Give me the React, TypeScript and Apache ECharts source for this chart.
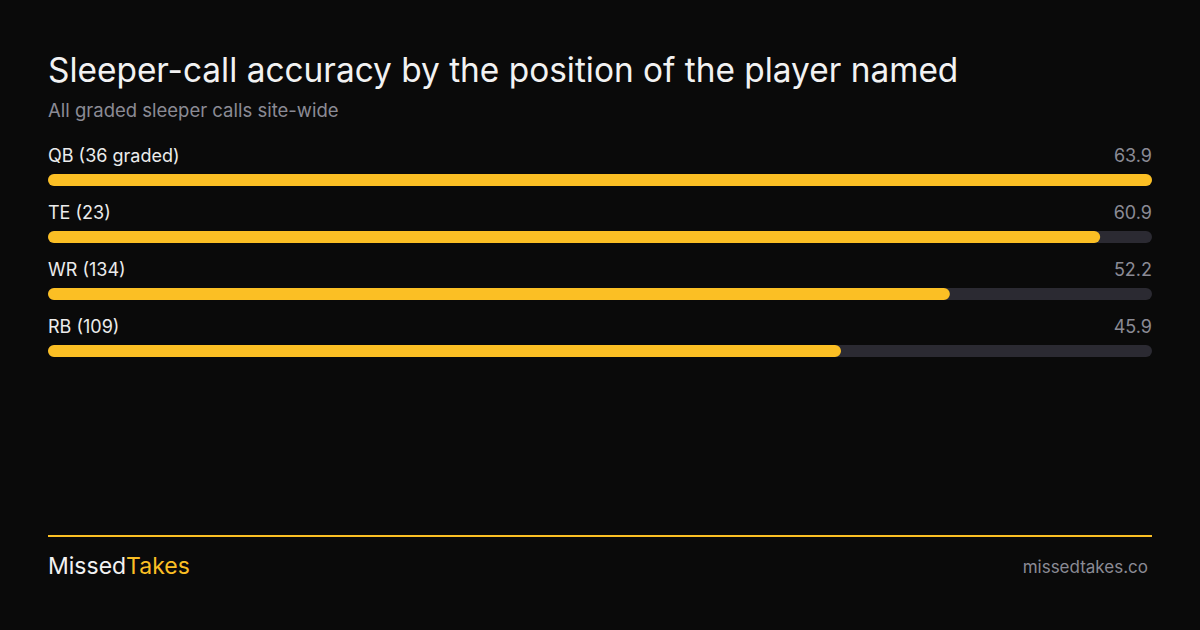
import React, { useEffect, useRef } from 'react';
import * as echarts from 'echarts';

const categories = ['QB (36 graded)', 'TE (23)', 'WR (134)', 'RB (109)'];
const accuracy = [63.9, 60.9, 52.2, 45.9];
const axisMax = 63.9;

const FONT = 'Inter, "Noto Sans", sans-serif';
const BG = '#0a0a0a';
const YELLOW = '#fbbf24';
const TRACK = '#2b2a32';

const App: React.FC = () => {
  const chartRef = useRef<HTMLDivElement>(null);

  useEffect(() => {
    document.body.style.margin = '0';
    if (!chartRef.current) return;

    const chart = echarts.init(chartRef.current, undefined, { renderer: 'svg' });

    const option: echarts.EChartsOption = {
      animation: false,
      backgroundColor: BG,
      textStyle: { fontFamily: FONT },
      title: [
        {
          text: 'Sleeper-call accuracy by the position of the player named',
          left: 48,
          top: 53,
          padding: 0,
          textStyle: { color: '#f2f2f2', fontSize: 33.4, fontWeight: 'normal', fontFamily: FONT },
        },
        {
          text: 'All graded sleeper calls site-wide',
          left: 48,
          top: 100,
          padding: 0,
          textStyle: { color: '#8b8b95', fontSize: 18.5, fontWeight: 'normal', fontFamily: FONT },
        },
      ],
      grid: { left: 48, right: 48, top: 151.5, height: 228, containLabel: false },
      xAxis: { type: 'value', min: 0, max: axisMax, show: false },
      yAxis: {
        type: 'category',
        data: categories,
        inverse: true,
        show: false,
      },
      series: [
        {
          type: 'bar',
          data: categories.map(() => axisMax),
          barWidth: 12,
          barGap: '-100%',
          silent: true,
          itemStyle: { color: TRACK, borderRadius: 6 },
          label: {
            show: true,
            position: ['100%', -28],
            align: 'right',
            verticalAlign: 'top',
            color: '#8b8b95',
            fontSize: 18,
            fontFamily: FONT,
            formatter: (p: any) => accuracy[p.dataIndex].toFixed(1),
          },
          z: 1,
        },
        {
          type: 'bar',
          data: accuracy,
          barWidth: 12,
          itemStyle: { color: YELLOW, borderRadius: 6 },
          label: {
            show: true,
            position: [0, -28],
            align: 'left',
            verticalAlign: 'top',
            color: '#ececec',
            fontSize: 18,
            fontFamily: FONT,
            formatter: (p: any) => p.name,
          },
          z: 2,
        },
      ],
      graphic: [
        {
          type: 'line',
          shape: { x1: 48, y1: 536, x2: 1152, y2: 536 },
          style: { stroke: YELLOW, lineWidth: 2 },
        },
        {
          type: 'text',
          left: 48,
          top: 554,
          style: {
            text: '{a|Missed}{b|Takes}',
            rich: {
              a: { fill: '#f2f2f2', fontSize: 23, fontFamily: FONT },
              b: { fill: YELLOW, fontSize: 23, fontFamily: FONT },
            },
          } as any,
        },
        {
          type: 'text',
          right: 52,
          top: 558,
          style: { text: 'missedtakes.co', fill: '#8b8b95', fontSize: 17, fontFamily: FONT },
        },
      ],
    };

    chart.setOption(option);
    return () => {
      chart.dispose();
    };
  }, []);

  return <div ref={chartRef} style={{ width: '1200px', height: '630px' }}></div>;
};

export default App;
